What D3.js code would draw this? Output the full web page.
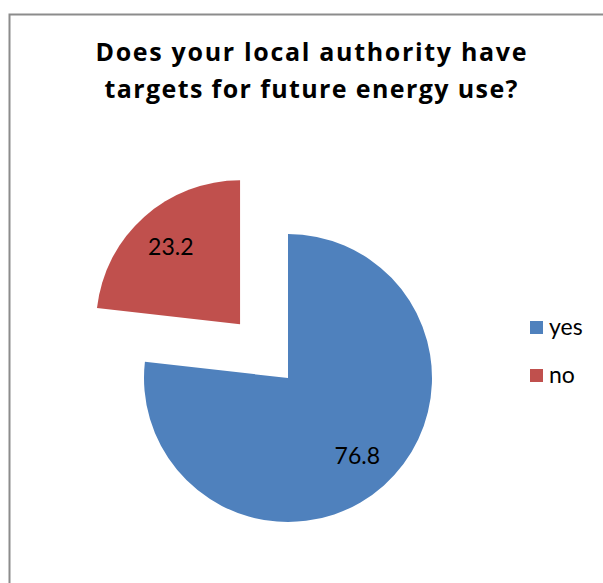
<!DOCTYPE html>
<html>
<head>
<meta charset="utf-8">
<script src="https://cdn.jsdelivr.net/npm/d3@7"></script>
<style>
  html, body { margin: 0; padding: 0; background: #fff; }
  svg { display: block; }
  text { font-family: Lato, "Open Sans", sans-serif; }
  .title { font-family: "Open Sans", Lato, sans-serif; }
</style>
</head>
<body>
<svg id="chart" width="603" height="583"></svg>
<script>
// Survey answers (percent)
const categories = ["yes", "no"];
const values = [76.8, 23.2];
const colors = ["#4f81bd", "#c0504d"];
const titleLines = ["Does your local authority have", "targets for future energy use?"];

const svg = d3.select("#chart");

// chart frame
svg.append("path")
  .attr("d", "M9.5,583 L9.5,14.5 L603,14.5")
  .attr("fill", "none")
  .attr("stroke", "#8c8c8c")
  .attr("stroke-width", 2);

// title, spread to the width of the heading block
const titleWidths = [431, 413];
svg.append("g").selectAll("text")
  .data(titleLines)
  .join("text")
  .attr("class", "title")
  .attr("x", 311)
  .attr("y", (d, i) => 61 + i * 37)
  .attr("text-anchor", "middle")
  .attr("font-size", 25)
  .attr("font-weight", "bold")
  .attr("fill", "#000")
  .attr("textLength", (d, i) => titleWidths[i])
  .attr("lengthAdjust", "spacing")
  .text(d => d);

// pie
const cx = 288, cy = 378, radius = 144, explode = 72;
const pie = d3.pie().sort(null).value(d => d.value);
const arcs = pie(categories.map((c, i) => ({ cat: c, value: values[i], color: colors[i] })));
const arc = d3.arc().innerRadius(0).outerRadius(radius);
const labelArc = d3.arc().innerRadius(104).outerRadius(104);

const g = svg.append("g").attr("transform", `translate(${cx},${cy})`);
const slice = g.selectAll("g.slice")
  .data(arcs)
  .join("g")
  .attr("class", "slice")
  .attr("transform", d => {
    if (d.data.cat !== "no") return null;
    const mid = (d.startAngle + d.endAngle) / 2;
    return `translate(${Math.sin(mid) * explode},${-Math.cos(mid) * explode})`;
  });

slice.append("path")
  .attr("d", arc)
  .attr("fill", d => d.data.color);

slice.append("text")
  .attr("transform", d => {
    const [x, y] = labelArc.centroid(d);
    return `translate(${x},${y})`;
  })
  .attr("text-anchor", "middle")
  .attr("dy", "0.36em")
  .attr("font-size", 23)
  .attr("fill", "#000")
  .text(d => d3.format(".1f")(d.data.value));

// legend
const legend = svg.append("g").attr("transform", "translate(530,321)");
const item = legend.selectAll("g")
  .data(categories)
  .join("g")
  .attr("transform", (d, i) => `translate(0,${i * 48})`);
item.append("rect")
  .attr("width", 13).attr("height", 13)
  .attr("fill", (d, i) => colors[i]);
item.append("text")
  .attr("x", 19).attr("y", 14)
  .attr("font-size", 23)
  .attr("fill", "#000")
  .text(d => d);
</script>
</body>
</html>
